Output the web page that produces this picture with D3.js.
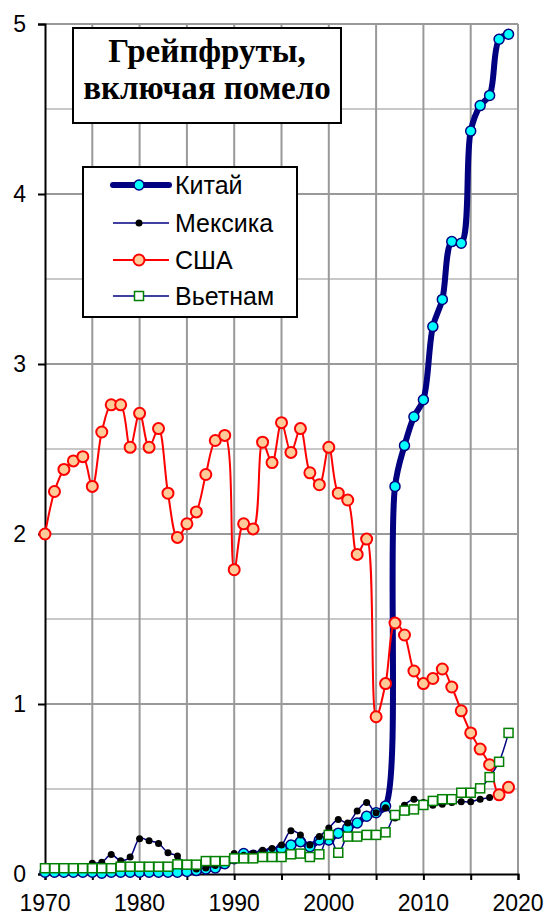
<!DOCTYPE html>
<html>
<head>
<meta charset="utf-8">
<script src="https://cdn.jsdelivr.net/npm/d3@7"></script>
<style>
  body { margin: 0; background: #fff; }
  svg { display: block; font-family: "Liberation Sans", Arial, sans-serif; }
</style>
</head>
<body>
<div id="chart"></div>
<script>
// values
var years = d3.range(1970, 2020);

var china = [0.01, 0.01, 0.01, 0.01, 0.01, 0.01, 0.005, 0.01, 0.01, 0.01,
             0.01, 0.01, 0.01, 0.01, 0.01, 0.015, 0.02, 0.03, 0.035, 0.06,
             0.09, 0.12, 0.11, 0.12, 0.13, 0.15, 0.17, 0.19, 0.16, 0.20,
             0.20, 0.24, 0.27, 0.30, 0.34, 0.36, 0.40, 2.28, 2.52, 2.69,
             2.79, 3.22, 3.38, 3.72, 3.71, 4.37, 4.52, 4.58, 4.91, 4.94];

var mexico = [0.03, 0.03, 0.03, 0.03, 0.04, 0.063, 0.069, 0.114, 0.078, 0.10,
              0.208, 0.196, 0.18, 0.125, 0.106, 0.045, 0.03, 0.035, 0.05, 0.08,
              0.12, 0.11, 0.12, 0.14, 0.15, 0.17, 0.255, 0.23, 0.17, 0.22,
              0.27, 0.32, 0.30, 0.37, 0.42, 0.36, 0.39, 0.33, 0.405, 0.44,
              0.42, 0.405, 0.41, 0.42, 0.425, 0.425, 0.44, 0.45];

var usa = [2.00, 2.25, 2.38, 2.43, 2.455, 2.28, 2.60, 2.76, 2.76, 2.51,
           2.71, 2.51, 2.62, 2.24, 1.98, 2.06, 2.13, 2.35, 2.55, 2.58,
           1.79, 2.06, 2.03, 2.54, 2.42, 2.655, 2.48, 2.62, 2.36, 2.29,
           2.51, 2.24, 2.20, 1.88, 1.97, 0.925, 1.12, 1.476, 1.406, 1.194,
           1.12, 1.15, 1.206, 1.10, 0.96, 0.83, 0.735, 0.643, 0.466, 0.51];

var vietnam = [0.034, 0.034, 0.034, 0.034, 0.034, 0.034, 0.034, 0.034, 0.043, 0.043,
               0.043, 0.043, 0.043, 0.043, 0.057, 0.055, 0.055, 0.076, 0.076, 0.076,
               0.092, 0.092, 0.092, 0.10, 0.10, 0.10, 0.116, 0.12, 0.10, 0.116,
               0.23, 0.125, 0.22, 0.22, 0.23, 0.23, 0.245, 0.347, 0.373, 0.38,
               0.406, 0.43, 0.44, 0.44, 0.478, 0.478, 0.504, 0.57, 0.66, 0.83];

var seriesNames = ["Китай", "Мексика", "США", "Вьетнам"];
var titleLines = ["Грейпфруты,", "включая помело"];
var xTicks = d3.range(1970, 2021, 5);
var xLabels = d3.range(1970, 2021, 10);
var yTicks = d3.range(0, 5.01, 0.5);
var yLabels = [0, 1, 2, 3, 4, 5];

var svgWidth = 547;
var svgHeight = 915;

var svg = d3.select("#chart")
  .append("svg")
  .attr("width", svgWidth)
  .attr("height", svgHeight);

svg.append("rect").attr("width", svgWidth).attr("height", svgHeight).attr("fill", "#fff");

var xScale = d3.scaleLinear().domain([1970, 2020]).range([45, 518]);
var yScale = d3.scaleLinear().domain([0, 5]).range([874, 24]);

// grid
var grid = svg.append("g");
grid.selectAll("line.h")
  .data(yTicks.filter(d => d > 0))
  .enter().append("line")
  .attr("x1", xScale(1970)).attr("x2", xScale(2020))
  .attr("y1", d => yScale(d)).attr("y2", d => yScale(d))
  .attr("stroke", d => Math.abs(d - Math.round(d)) < 0.01 ? "#999" : "#c8c8c8")
  .attr("stroke-width", 2);

grid.selectAll("line.v")
  .data(xTicks.filter(d => d > 1970))
  .enter().append("line")
  .attr("x1", d => xScale(d)).attr("x2", d => xScale(d))
  .attr("y1", yScale(0)).attr("y2", yScale(5))
  .attr("stroke", "#999")
  .attr("stroke-width", 2);

// axes
var bottomAxis = d3.axisBottom(xScale).tickValues(xTicks).tickSize(6).tickFormat("");
var leftAxis = d3.axisLeft(yScale).tickValues(yLabels).tickSize(7).tickFormat("");

svg.append("g")
  .attr("transform", `translate(0, ${yScale(0)})`)
  .call(bottomAxis)
  .call(g => g.selectAll("path, line").attr("stroke", "#000").attr("stroke-width", 2));

svg.append("g")
  .attr("transform", `translate(${xScale(1970)}, 0)`)
  .call(leftAxis)
  .call(g => g.selectAll("path, line").attr("stroke", "#000").attr("stroke-width", 2));

svg.selectAll("text.xl")
  .data(xLabels)
  .enter().append("text")
  .attr("x", d => xScale(d))
  .attr("y", 911)
  .attr("text-anchor", "middle")
  .attr("font-size", 23)
  .text(d => d);

svg.selectAll("text.yl")
  .data(yLabels)
  .enter().append("text")
  .attr("x", 26)
  .attr("y", d => yScale(d))
  .attr("dy", "0.36em")
  .attr("text-anchor", "end")
  .attr("font-size", 23)
  .text(d => d);

// series
function pts(vals) {
  return vals.map((v, i) => [years[i], v]);
}
var line = d3.line()
  .x(d => xScale(d[0]))
  .y(d => yScale(d[1]))
  .curve(d3.curveCatmullRom);

var plot = svg.append("g");

// Китай
plot.append("path").datum(pts(china))
  .attr("d", line).attr("fill", "none")
  .attr("stroke", "#000080").attr("stroke-width", 6).attr("stroke-linejoin", "round");
plot.selectAll("circle.cn").data(pts(china)).enter().append("circle")
  .attr("cx", d => xScale(d[0])).attr("cy", d => yScale(d[1])).attr("r", 5)
  .attr("fill", "#00ffff").attr("stroke", "#000080").attr("stroke-width", 1.5);

// Мексика
plot.append("path").datum(pts(mexico))
  .attr("d", line).attr("fill", "none")
  .attr("stroke", "#000080").attr("stroke-width", 1.5);
plot.selectAll("circle.mx").data(pts(mexico)).enter().append("circle")
  .attr("cx", d => xScale(d[0])).attr("cy", d => yScale(d[1])).attr("r", 3.5)
  .attr("fill", "#000");

// США
plot.append("path").datum(pts(usa))
  .attr("d", line).attr("fill", "none")
  .attr("stroke", "#ff0000").attr("stroke-width", 2);
plot.selectAll("circle.us").data(pts(usa)).enter().append("circle")
  .attr("cx", d => xScale(d[0])).attr("cy", d => yScale(d[1])).attr("r", 5.5)
  .attr("fill", "#ffcc99").attr("stroke", "#ff0000").attr("stroke-width", 2);

// Вьетнам
plot.append("path").datum(pts(vietnam))
  .attr("d", line).attr("fill", "none")
  .attr("stroke", "#000080").attr("stroke-width", 1.5);
plot.selectAll("rect.vn").data(pts(vietnam)).enter().append("rect")
  .attr("x", d => xScale(d[0]) - 4.5).attr("y", d => yScale(d[1]) - 4.5)
  .attr("width", 9).attr("height", 9)
  .attr("fill", "#fff").attr("stroke", "#008000").attr("stroke-width", 1.5);

// title box
svg.append("rect")
  .attr("x", 73).attr("y", 28).attr("width", 268).attr("height", 95)
  .attr("fill", "#fff").attr("stroke", "#000").attr("stroke-width", 2);
svg.selectAll("text.title")
  .data(titleLines)
  .enter().append("text")
  .attr("x", 207)
  .attr("y", (d, i) => 62 + i * 37)
  .attr("text-anchor", "middle")
  .attr("font-family", "'Liberation Serif', 'Times New Roman', serif")
  .attr("font-weight", "bold")
  .attr("font-size", 33)
  .text(d => d);

// legend
var legend = svg.append("g");
legend.append("rect")
  .attr("x", 83).attr("y", 167).attr("width", 214).attr("height", 150)
  .attr("fill", "#fff").attr("stroke", "#000").attr("stroke-width", 2);

var legY = [185, 223, 260, 296];
var legStroke = ["#000080", "#000080", "#ff0000", "#000080"];
var legWidth = [6, 1.5, 2, 1.5];

seriesNames.forEach(function(name, i) {
  var y = legY[i];
  legend.append("line")
    .attr("x1", 113).attr("x2", 169).attr("y1", y).attr("y2", y)
    .attr("stroke", legStroke[i]).attr("stroke-width", legWidth[i])
    .attr("stroke-linecap", i === 0 ? "round" : "butt");
  if (i === 0) {
    legend.append("circle").attr("cx", 139).attr("cy", y).attr("r", 5)
      .attr("fill", "#00ffff").attr("stroke", "#000080").attr("stroke-width", 1.5);
  } else if (i === 1) {
    legend.append("circle").attr("cx", 139).attr("cy", y).attr("r", 3.5).attr("fill", "#000");
  } else if (i === 2) {
    legend.append("circle").attr("cx", 139).attr("cy", y).attr("r", 5.5)
      .attr("fill", "#ffcc99").attr("stroke", "#ff0000").attr("stroke-width", 2);
  } else {
    legend.append("rect").attr("x", 134.5).attr("y", y - 4.5).attr("width", 9).attr("height", 9)
      .attr("fill", "#fff").attr("stroke", "#008000").attr("stroke-width", 1.5);
  }
  legend.append("text")
    .attr("x", 175).attr("y", y).attr("dy", "0.36em")
    .attr("font-size", 25)
    .text(name);
});
</script>
</body>
</html>
